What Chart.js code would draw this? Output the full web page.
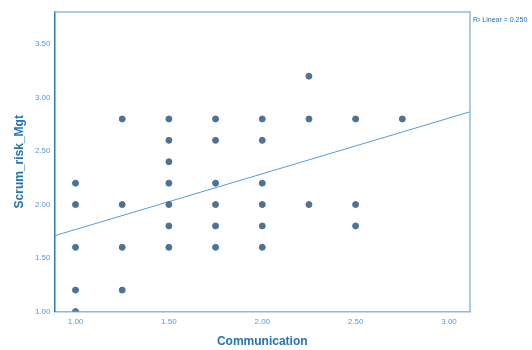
<!DOCTYPE html>
<html>
<head>
<meta charset="utf-8">
<script src="https://cdn.jsdelivr.net/npm/chart.js@4.4.1/dist/chart.umd.min.js"></script>
<style>
  html, body { margin: 0; padding: 0; background: #ffffff; }
  #wrap { width: 532px; height: 350px; position: relative; }
</style>
</head>
<body>
<div id="wrap"><canvas id="c" width="532" height="350"></canvas></div>
<script>
// Communication score for each respondent
const communication = [
  1.00, 1.00, 1.00, 1.00, 1.00,
  1.25, 1.25, 1.25, 1.25,
  1.50, 1.50, 1.50, 1.50, 1.50, 1.50, 1.50,
  1.75, 1.75, 1.75, 1.75, 1.75, 1.75,
  2.00, 2.00, 2.00, 2.00, 2.00, 2.00,
  2.25, 2.25, 2.25,
  2.50, 2.50, 2.50,
  2.75
];
// Scrum risk management score for each respondent
const scrumRiskMgt = [
  2.20, 2.00, 1.60, 1.20, 1.00,
  2.80, 2.00, 1.60, 1.20,
  2.80, 2.60, 2.40, 2.20, 2.00, 1.80, 1.60,
  2.80, 2.60, 2.20, 2.00, 1.80, 1.60,
  2.80, 2.60, 2.20, 2.00, 1.80, 1.60,
  3.20, 2.80, 2.00,
  2.80, 2.00, 1.80,
  2.80
];
// Fitted linear trend, evaluated at the ends of the x range
const fitX = [0.8875, 3.1125];
const fitY = [1.708, 2.867];
const rSquaredLabel = 'R\u00B2 Linear = 0.250';

const xTicks = [1.00, 1.50, 2.00, 2.50, 3.00];
const yTicks = [1.00, 1.50, 2.00, 2.50, 3.00, 3.50];
const xRange = [0.8875, 3.1125];
const yRange = [1.00, 3.80];

const points = communication.map((x, i) => ({ x, y: scrumRiskMgt[i] }));
const fitLine = fitX.map((x, i) => ({ x, y: fitY[i] }));

const FONT = '"Liberation Sans", Arial, sans-serif';
const TICK_COLOR = '#5f97c8';
const TITLE_COLOR = '#2474b4';
const FRAME_COLOR = '#8dbadc';

// Light frame on top/right, and the R² note beside the plot
const framePlugin = {
  id: 'frame',
  afterDatasetsDraw(chart) {
    const { ctx, chartArea: a } = chart;
    ctx.save();
    ctx.strokeStyle = FRAME_COLOR;
    ctx.lineWidth = 1.5;
    ctx.beginPath();
    ctx.moveTo(a.left, a.top);
    ctx.lineTo(a.right, a.top);
    ctx.lineTo(a.right, a.bottom);
    ctx.stroke();
    ctx.fillStyle = TITLE_COLOR;
    ctx.font = '7px ' + FONT;
    ctx.textBaseline = 'middle';
    ctx.textAlign = 'left';
    ctx.fillText(rSquaredLabel, a.right + 3, a.top + 8);
    ctx.restore();
  }
};

new Chart(document.getElementById('c'), {
  type: 'scatter',
  data: {
    datasets: [
      {
        label: 'Scrum_risk_Mgt',
        data: points,
        backgroundColor: '#5a7082',
        borderColor: '#3b79ad',
        borderWidth: 1,
        pointRadius: 3,
        pointHoverRadius: 3,
        order: 1
      },
      {
        type: 'line',
        label: 'Linear',
        data: fitLine,
        borderColor: '#5c9ccf',
        borderWidth: 1,
        pointRadius: 0,
        fill: false,
        tension: 0,
        order: 2
      }
    ]
  },
  options: {
    responsive: false,
    animation: false,
    events: [],
    layout: { padding: { left: 0, top: 12, right: 62, bottom: 0 } },
    plugins: { legend: { display: false }, tooltip: { enabled: false } },
    scales: {
      x: {
        type: 'linear',
        min: xRange[0],
        max: xRange[1],
        afterBuildTicks(s) { s.ticks = xTicks.map(v => ({ value: v })); },
        afterFit(s) { s.height = 38.5; },
        grid: { display: false, drawTicks: false },
        border: { display: true, color: FRAME_COLOR, width: 1.5 },
        ticks: {
          padding: 5,
          color: TICK_COLOR,
          font: { family: FONT, size: 8 },
          maxRotation: 0,
          callback: v => Number(v).toFixed(2)
        },
        title: {
          display: true,
          text: 'Communication',
          color: TITLE_COLOR,
          font: { family: FONT, size: 12, weight: 'bold' },
          padding: { top: 0, bottom: 1 }
        }
      },
      y: {
        type: 'linear',
        min: yRange[0],
        max: yRange[1],
        afterBuildTicks(s) { s.ticks = yTicks.map(v => ({ value: v })); },
        afterFit(s) { s.width = 54.5; },
        grid: { display: false, drawTicks: false },
        border: { display: true, color: '#2a7bb8', width: 1.5 },
        ticks: {
          padding: 4,
          color: TICK_COLOR,
          font: { family: FONT, size: 8 },
          callback: v => Number(v).toFixed(2)
        },
        title: {
          display: true,
          text: 'Scrum_risk_Mgt',
          color: TITLE_COLOR,
          font: { family: FONT, size: 12, weight: 'bold' },
          padding: { top: 12, bottom: 0 }
        }
      }
    }
  },
  plugins: [framePlugin]
});
</script>
</body>
</html>
